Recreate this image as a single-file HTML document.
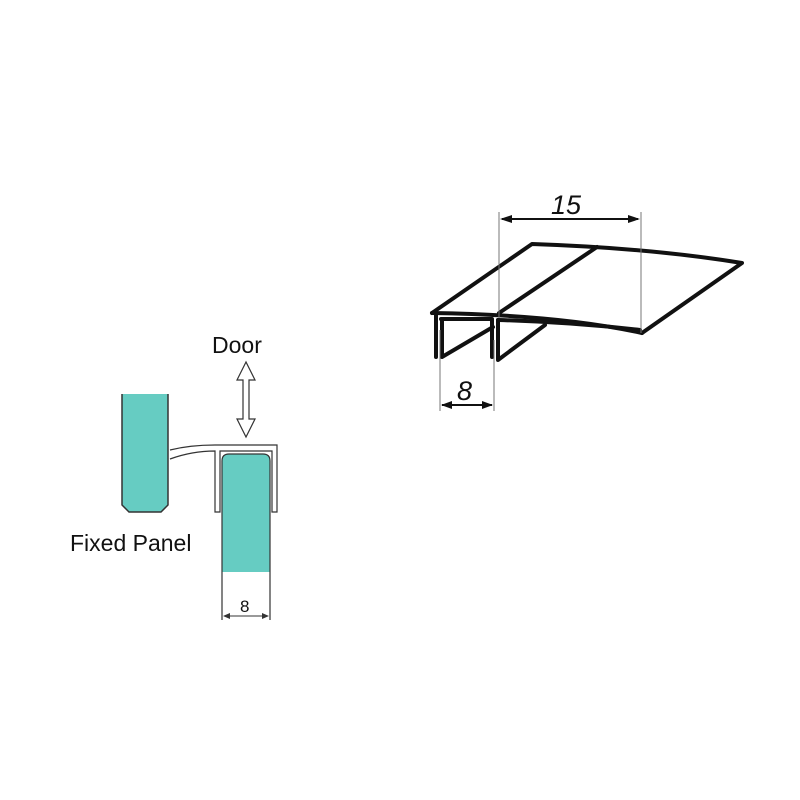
<!DOCTYPE html>
<html><head><style>
html,body{margin:0;padding:0;background:#fff;}
svg{display:block}
</style></head><body>
<svg width="800" height="800" viewBox="0 0 800 800" xmlns="http://www.w3.org/2000/svg">
<rect width="800" height="800" fill="#fff"/>
<!-- Left diagram -->
<path d="M122,394 L122,505 L129,512 L161,512 L168,505 L168,394 Z" fill="#66ccc2"/>
<path d="M122,394 L122,505 L129,512 L161,512 L168,505 L168,394" fill="none" stroke="#333" stroke-width="1.5"/>
<path d="M222,572 L222,461 Q222,454 229,454 L263,454 Q270,454 270,461 L270,572 Z" fill="#66ccc2"/>
<path d="M222,620 L222,461 Q222,454 229,454 L263,454 Q270,454 270,461 L270,620" fill="none" stroke="#333" stroke-width="1.2"/>
<!-- seal -->
<path d="M170,450 Q190,445 215,445 L277,445 L277,512 L272,512 L272,451 L220,451 L220,512 L215,512 L215,451 Q192,451 170,459" fill="#fff" stroke="#333" stroke-width="1.2"/>
<!-- double arrow -->
<path d="M246,362 L237,380 L243,380 L243,419 L237,419 L246,437 L255,419 L249,419 L249,380 L255,380 Z" fill="#fff" stroke="#333" stroke-width="1.2"/>
<text x="212" y="353" font-family="Liberation Sans, sans-serif" font-size="23" fill="#111">Door</text>
<text x="70" y="551" font-family="Liberation Sans, sans-serif" font-size="23" fill="#111">Fixed Panel</text>
<text x="240" y="612" font-family="Liberation Sans, sans-serif" font-size="17" fill="#111">8</text>
<line x1="224" y1="616" x2="268" y2="616" stroke="#333" stroke-width="1"/>
<path d="M223,616 l7,-3 l0,6 z M269,616 l-7,-3 l0,6 z" fill="#333"/>
<!-- Right diagram -->
<g fill="none" stroke="#111" stroke-width="4" stroke-linejoin="round" stroke-linecap="round">
<path d="M432,313 L532,244 Q650,248 742,263 L642,333"/>
<path d="M597,247 L499,313"/>
<path d="M432,313 Q560,315 642,333"/>
<path d="M436,313 L436,357"/>
<path d="M442,320 L442,357 L493,327"/>
<path d="M441,319 L492,319 L492,357 M498,320 L498,360 L545,325"/>
<path d="M498,320 Q570,322 640,330"/>
</g>
<g stroke="#777" stroke-width="1">
<line x1="499" y1="212" x2="499" y2="318"/>
<line x1="641" y1="212" x2="641" y2="333"/>
<line x1="440" y1="330" x2="440" y2="411"/>
<line x1="494" y1="340" x2="494" y2="411"/>
</g>
<line x1="502" y1="219" x2="638" y2="219" stroke="#111" stroke-width="2"/>
<path d="M500,219 l12,-4 l0,8 z M640,219 l-12,-4 l0,8 z" fill="#111"/>
<line x1="442" y1="405" x2="492" y2="405" stroke="#111" stroke-width="2"/>
<path d="M441,405 l11,-4 l0,8 z M493,405 l-11,-4 l0,8 z" fill="#111"/>
<text x="551" y="214" font-family="Liberation Sans, sans-serif" font-style="italic" font-size="27" fill="#111">15</text>
<text x="457" y="400" font-family="Liberation Sans, sans-serif" font-style="italic" font-size="27" fill="#111">8</text>
</svg>
</body></html>
